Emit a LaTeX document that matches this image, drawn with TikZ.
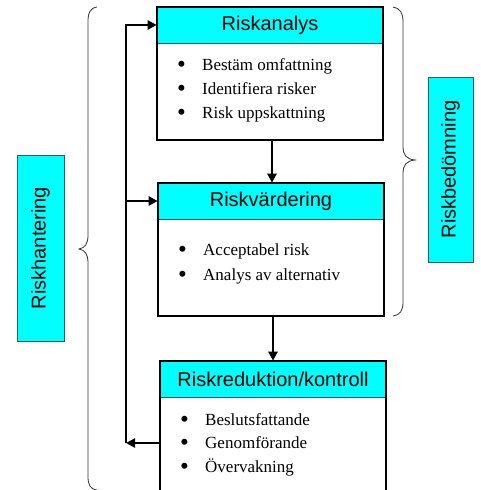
\documentclass[tikz,border=0pt]{standalone}
\usepackage{fontspec}
\setmainfont{Liberation Serif}
\newfontfamily\arialf{Liberation Sans}
\usetikzlibrary{arrows.meta,calc}
\definecolor{cy}{HTML}{00FFFF}
\definecolor{edgec}{HTML}{2F5F5F}
\newcommand{\bul}{\makebox[25pt][l]{\raisebox{-2pt}{\fontsize{25}{20}\selectfont•}}}
\begin{document}
\begin{tikzpicture}[x=1pt,y=-1pt,
 head/.style={fill=cy, draw=edgec, line width=0.6pt, minimum width=226pt, minimum height=36pt, inner sep=0pt, font=\arialf\fontsize{20}{24}\selectfont},
 body/.style={minimum width=226pt, inner sep=0pt, anchor=north},
 frame/.style={draw=black, line width=2.2pt},
 item/.style={anchor=base west, inner sep=0pt, font=\fontsize{17}{20}\selectfont},
 flow/.style={line width=2.6pt, -{Triangle[length=9pt,width=9pt]}},
 side/.style={fill=cy, draw=edgec, line width=0.8pt, rotate=90, inner sep=0pt, font=\arialf\fontsize{20}{24}\selectfont},
 brace/.style={draw=black!80, line width=0.8pt}]
\useasboundingbox (0,0) rectangle (481,490);
\clip (0,0) rectangle (481,490);
\fill[white] (0,0) rectangle (481,490);

% Box 1
\node[head] (h1) at (270,25) {Riskanalys};
\node[body, minimum height=96pt] (b1) at (h1.south) {};
\draw[frame] (h1.north west) rectangle (b1.south east);
\node[item] (i11) at (177,70) {\bul Bestäm omfattning};
\node[item] (i12) at (177,94) {\bul Identifiera risker};
\node[item] (i13) at (177,118) {\bul Risk uppskattning};

% Box 2
\node[head] (h2) at (271,201) {Riskvärdering};
\node[body, minimum height=96pt] (b2) at (h2.south) {};
\draw[frame] (h2.north west) rectangle (b2.south east);
\node[item] (i21) at (178,255) {\bul Acceptabel risk};
\node[item] (i22) at (178,280) {\bul Analys av alternativ};

% Box 3
\node[head] (h3) at (273,379) {Riskreduktion/kontroll};
\node[body, minimum height=115pt] (b3) at (h3.south) {};
\draw[frame] (h3.north west) rectangle (b3.south east);
\node[item] (i31) at (180,425) {\bul Beslutsfattande};
\node[item] (i32) at (180,448) {\bul Genomförande};
\node[item] (i33) at (180,472) {\bul Övervakning};

% Down arrows
\draw[flow] ($(b1.south)+(2,0)$) -- ($(h2.north)+(1,0)$);
\draw[flow] ($(b2.south)+(2,0)$) -- ($(h3.north)+(0,0)$);

% Feedback loop
\coordinate (fb) at (126,443);
\coordinate (ftop) at (126,25);
\draw[flow] (b3.west |- fb) -- (fb);
\draw[flow] (fb) -- (ftop) -- (h1.west);
\draw[flow] (fb |- h2.west) -- (h2.west);

% Side labels
\node[side, minimum width=186pt, minimum height=47pt] (rh) at (40.5,248) {Riskhantering};
\node[side, minimum width=185pt, minimum height=45pt] (rb) at (450.5,169.5) {Riskbedömning};

% Braces
\draw[brace] (97,7) .. controls (90,8) and (88,13) .. (88,22) -- (88,235)
  .. controls (88,244) and (85,248) .. (79,249)
  .. controls (85,250) and (88,254) .. (88,263) -- (88,476)
  .. controls (88,485) and (90,489) .. (97,490);
\draw[brace] (393,7) .. controls (400,8) and (403,13) .. (403,22) -- (403,146)
  .. controls (403,155) and (406,159) .. (415,160)
  .. controls (406,161) and (403,165) .. (403,174) -- (403,302)
  .. controls (403,311) and (400,315) .. (393,316);
\end{tikzpicture}
\end{document}
